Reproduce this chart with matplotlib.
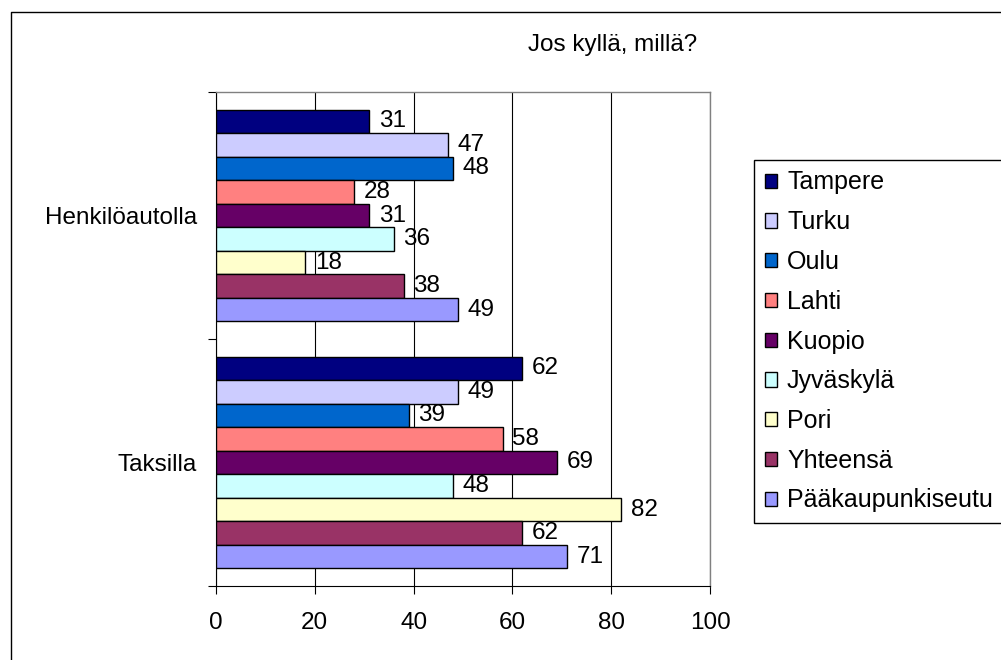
import numpy as np
import matplotlib
matplotlib.use('Agg')
import matplotlib.pyplot as plt
from matplotlib.lines import Line2D

plt.rcParams['font.family'] = ['Liberation Sans', 'DejaVu Sans']

title = 'Jos kyllä, millä?'
categories = ['Henkilöautolla', 'Taksilla']
cities = ['Tampere', 'Turku', 'Oulu', 'Lahti', 'Kuopio', 'Jyväskylä', 'Pori',
          'Yhteensä', 'Pääkaupunkiseutu']
henkiloautolla = [31, 47, 48, 28, 31, 36, 18, 38, 49]
taksilla = [62, 49, 39, 58, 69, 48, 82, 62, 71]
colors = ['#000080', '#CCCCFF', '#0066CC', '#FF8080', '#660066', '#CCFFFF',
          '#FFFFCC', '#993366', '#9999FF']
xticks = [0, 20, 40, 60, 80, 100]

fs = 17.5
fig = plt.figure(figsize=(10.01, 6.6), dpi=100)
ax = fig.add_axes([216 / 1001, 1 - 586 / 660, (710 - 216) / 1001, (586 - 92) / 660])

n = len(cities)
h = 1 / (n + 1.5)
ypos = np.arange(len(categories))
handles = []
for i, city in enumerate(cities):
    vals = [henkiloautolla[i], taksilla[i]]
    y = ypos - n * h / 2 + (i + 0.5) * h
    b = ax.barh(y, vals, height=h, color=colors[i], edgecolor='black',
                linewidth=1.0, label=city, zorder=3)
    ax.bar_label(b, padding=7, fontsize=fs, zorder=4)
    handles.append(b)

ax.set_xlim(0, 100)
ax.set_ylim(1.5, -0.5)
ax.set_xticks(xticks)
ax.tick_params(axis='x', direction='out', length=6, width=0.8, pad=13,
               labelsize=fs, color='black')
ax.set_yticks([-0.5, 0.5, 1.5])
ax.set_yticklabels([])
ax.tick_params(axis='y', which='major', direction='out', length=6, width=0.8)
ax.set_yticks(ypos, minor=True)
ax.set_yticklabels(categories, minor=True)
ax.tick_params(axis='y', which='minor', length=0, pad=13.5, labelsize=fs)

ax.grid(axis='x', color='black', linewidth=0.8, zorder=0)
for s in ['top', 'right']:
    ax.spines[s].set_color('#808080')
    ax.spines[s].set_linewidth(1.0)
for s in ['left', 'bottom']:
    ax.spines[s].set_color('black')
    ax.spines[s].set_linewidth(0.8)

fig.text(613 / 1001, 1 - 45 / 660, title, ha='center', va='center', fontsize=fs)

leg = fig.legend(handles=handles, loc='upper left',
                 bbox_to_anchor=(754 / 1001, 1 - 160 / 660),
                 fontsize=18, handlelength=0.5, handleheight=0.5,
                 handletextpad=0.4, borderpad=0.42, labelspacing=0.63,
                 fancybox=False, framealpha=1, borderaxespad=0)
leg.get_frame().set_edgecolor('black')
leg.get_frame().set_linewidth(1.0)

# outer chart frame (right and bottom edges fall outside the image)
fig.add_artist(Line2D([11 / 1001, 11 / 1001, 1.1], [-0.1, 1 - 12 / 660, 1 - 12 / 660],
                      color='black', linewidth=1.0, transform=fig.transFigure))

fig.savefig('out.png', dpi=100)
